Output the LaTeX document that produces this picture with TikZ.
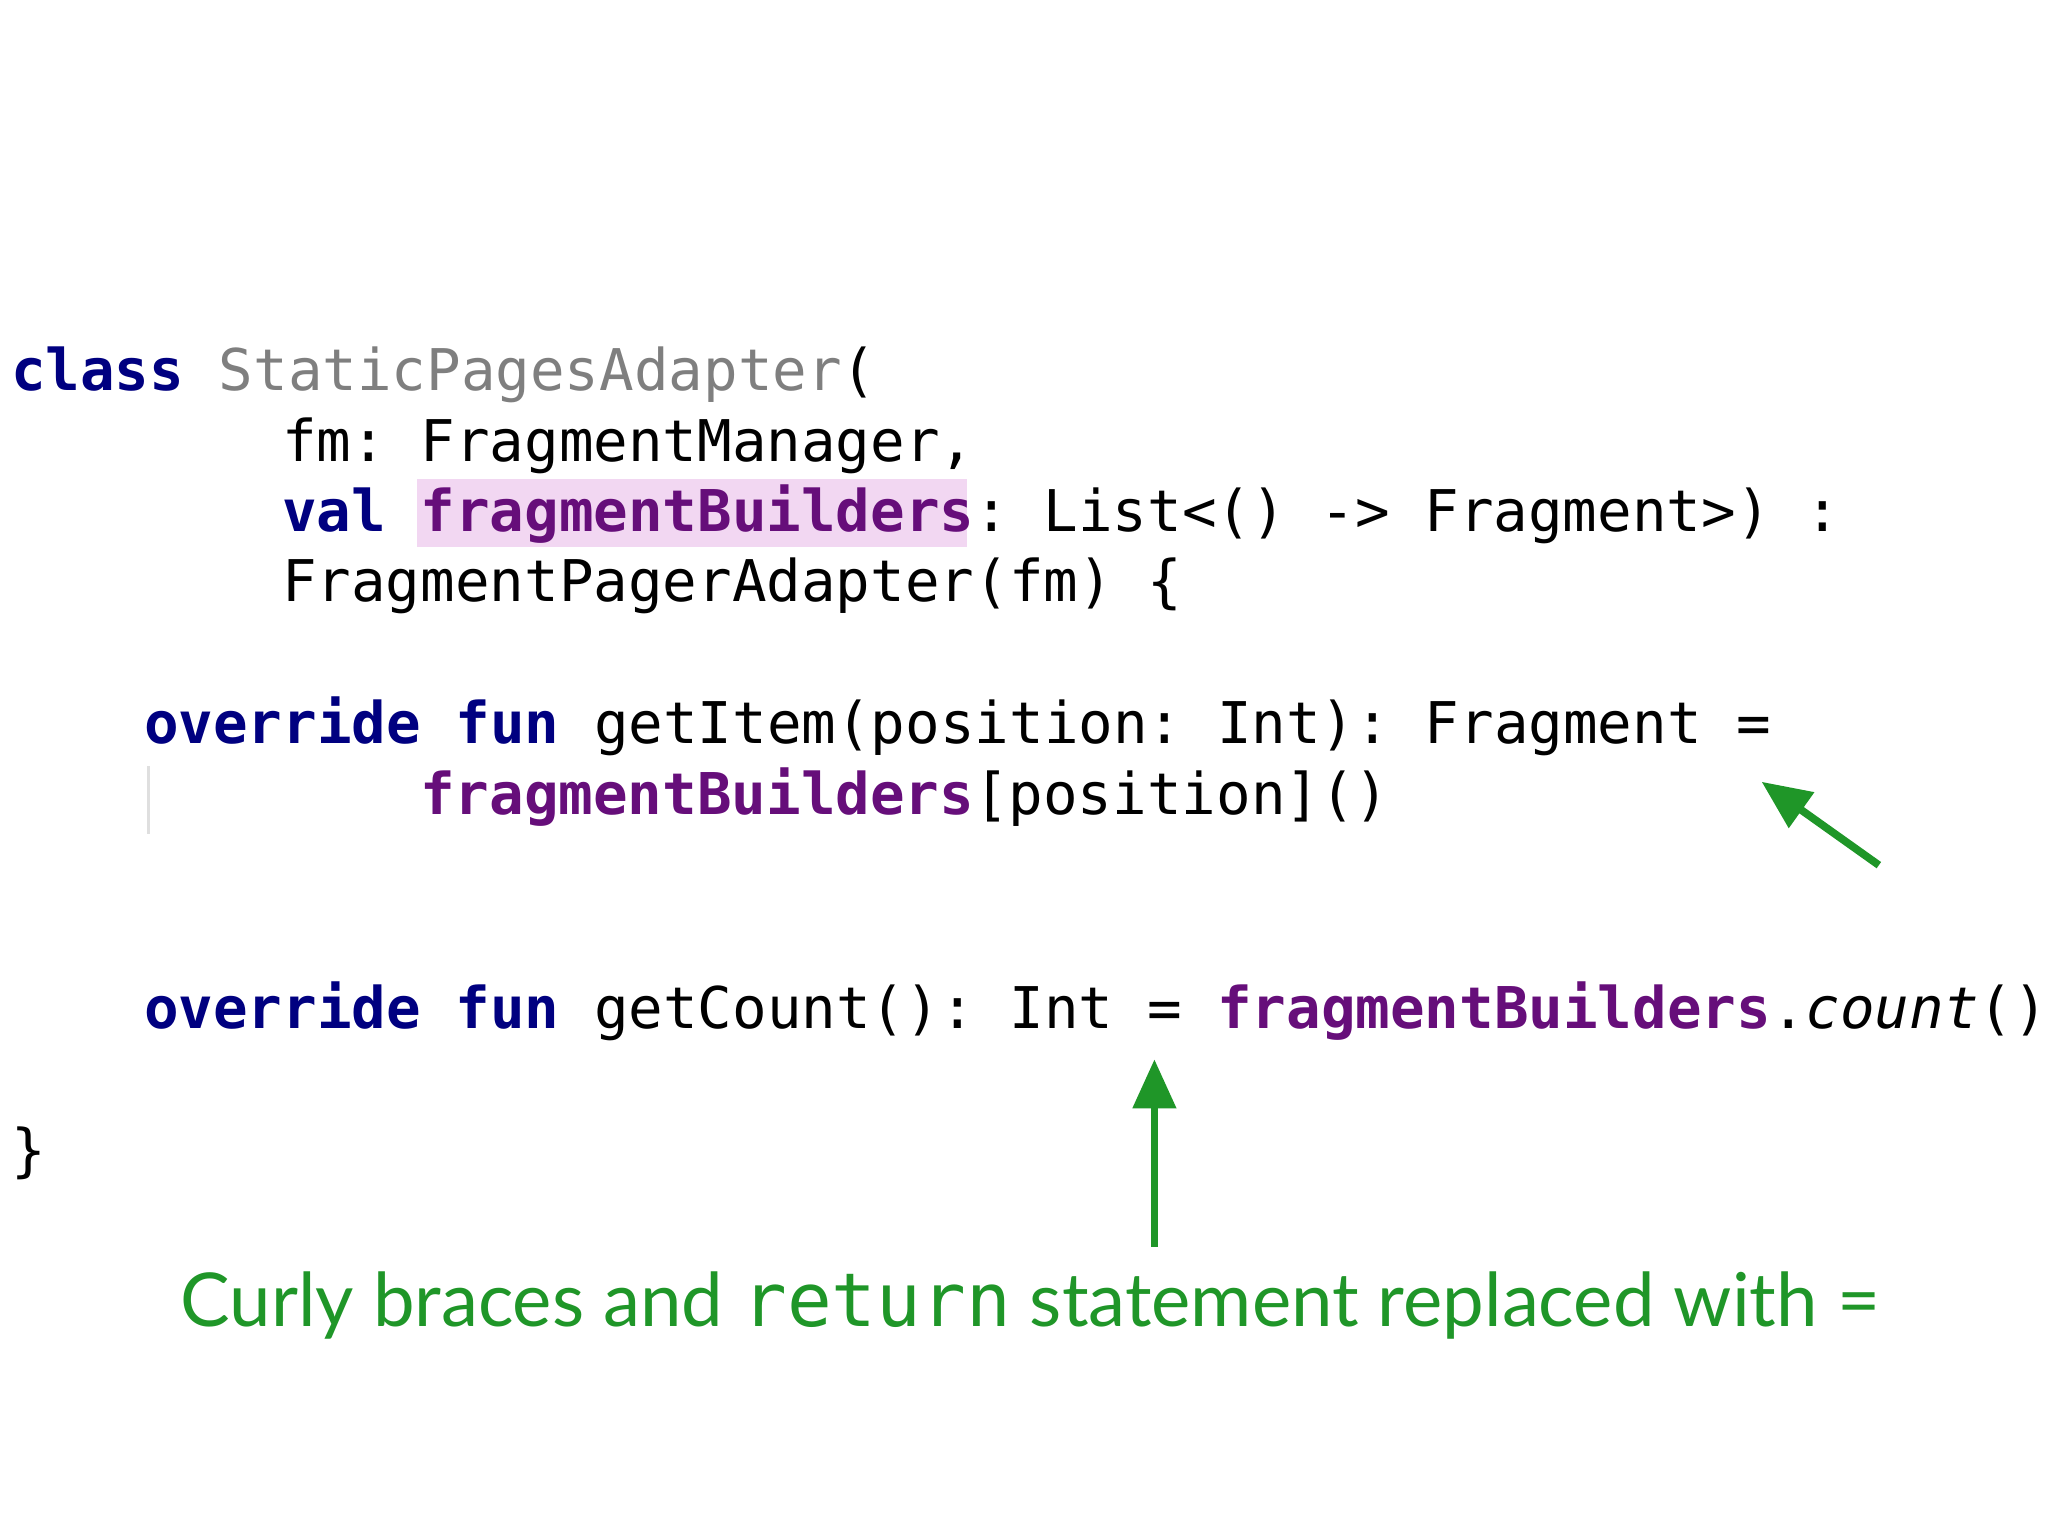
\documentclass[tikz,border=0pt]{standalone}
\usepackage{fontspec}
\setmonofont{DejaVu Sans Mono}
\setsansfont{Lato}
\usetikzlibrary{arrows.meta}
\definecolor{kw}{HTML}{000080}
\definecolor{cls}{HTML}{7F7F7F}
\definecolor{fld}{HTML}{660E7A}
\definecolor{hl}{HTML}{F2D7F2}
\definecolor{grn}{HTML}{1F9628}
\newcommand{\K}[1]{\textcolor{kw}{\textbf{#1}}}
\newcommand{\F}[1]{\textcolor{fld}{\textbf{#1}}}
\tikzset{code/.style={anchor=base west,inner sep=0pt,font=\ttfamily\fontsize{16.4}{16.4}\selectfont},
arr/.style={draw=grn,line width=2.2pt,-{Triangle[length=14pt,width=12pt]}}}
\begin{document}
\begin{tikzpicture}[x=0.01306cm,y=-0.01306cm]
\fill[white] (0,0) rectangle (1568,1176);
\node[code] (l1) at (8,300) {\K{class} \textcolor{cls}{StaticPagesAdapter}(};
\node[code] (l2) at (216,354) {fm: FragmentManager,};
\fill[hl] (320,368) rectangle (742,420);
\node[code] (l3) at (216,408) {\K{val} \F{fragmentBuilders}: List<() -> Fragment>) :};
\node[code] (l4) at (216,462) {FragmentPagerAdapter(fm) \{};
\node[code] (l5) at (110,571) {\K{override} \K{fun} getItem(position: Int): Fragment =};
\draw[gray!25,line width=1pt] (114,588) -- (114,640);
\node[code] (l6) at (322,625) {\F{fragmentBuilders}[position]()};
\node[code] (l7) at (110,789) {\K{override} \K{fun} getCount(): Int = \F{fragmentBuilders}.\textit{count}()};
\node[code] (l8) at (8,898) {\}};
\coordinate (a1s) at (1442,664);
\coordinate (a1e) at (1352,600);
\draw[arr] (a1s) -- (a1e);
\coordinate (a2s) at (886,957);
\coordinate (a2e) at (886,813);
\draw[arr] (a2s) -- (a2e);
\node[anchor=base west,inner sep=0pt,text=grn,font=\sffamily\fontsize{21.2}{21.2}\selectfont] (cap) at (138,1018) {Curly braces and {\ttfamily return} statement replaced with =};
\end{tikzpicture}
\end{document}
